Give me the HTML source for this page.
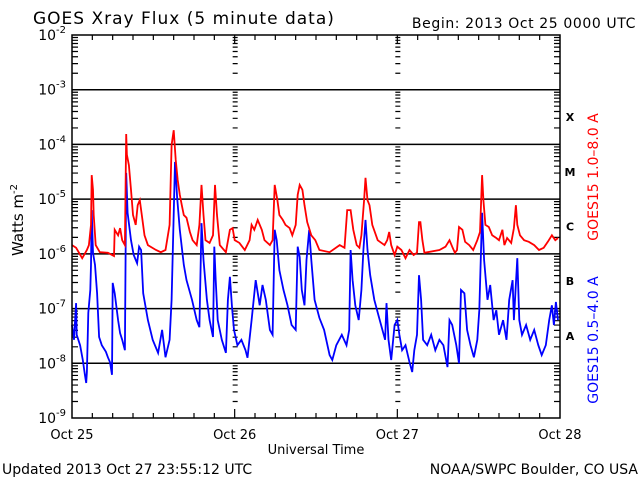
<!DOCTYPE html>
<html><head><meta charset="utf-8"><style>
body{margin:0;background:#fff;width:640px;height:480px;overflow:hidden}
svg{display:block}
text{font-family:"DejaVu Sans","Liberation Sans",sans-serif}
</style></head><body>
<svg id="chart" width="640" height="480" viewBox="0 0 640 480" xmlns="http://www.w3.org/2000/svg">
<text x="33" y="24" font-size="17" letter-spacing="1">GOES Xray Flux (5 minute data)</text>
<text x="636" y="28" font-size="14" text-anchor="end" letter-spacing="0.6">Begin:  2013 Oct 25 0000 UTC</text>
<text x="2" y="474" font-size="14">Updated 2013 Oct 27 23:55:12 UTC</text>
<text x="638" y="474" font-size="14" text-anchor="end">NOAA/SWPC Boulder, CO USA</text>
<text x="316" y="454" font-size="13" text-anchor="middle">Universal Time</text>
<text transform="translate(23,220) rotate(-90)" font-size="15" text-anchor="middle">Watts m<tspan font-size="10" dy="-6">-2</tspan></text>
<text transform="translate(598,177) rotate(-90)" font-size="14" fill="#ff0000" text-anchor="middle">GOES15 1.0&#8211;8.0 A</text>
<text transform="translate(598,340) rotate(-90)" font-size="14" fill="#0000ff" text-anchor="middle">GOES15 0.5&#8211;4.0 A</text>
<g id="g"></g>
</svg>
<script>
const dayLabels=["Oct 25","Oct 26","Oct 27","Oct 28"];
const decadeExps=[-2,-3,-4,-5,-6,-7,-8,-9];
const classLabels=["X","M","C","B","A"];
const classLogs=[-3.5,-4.5,-5.5,-6.5,-7.5];
const redHours=[0,0.6,1.5,2.2,2.5,2.8,2.9,3.1,3.2,3.5,4.1,5.3,6.2,6.3,6.8,7.1,7.4,7.8,8.0,8.1,8.4,8.7,9.0,9.4,9.7,10.0,10.3,10.7,11.2,12.4,13.1,13.8,14.4,14.7,15.0,15.3,15.6,15.9,16.2,16.5,16.9,17.4,17.8,18.4,18.8,19.1,19.4,19.7,20.3,20.8,21.1,21.4,21.8,22.7,23.3,23.7,24.0,24.7,25.5,26.2,26.5,26.9,27.4,28.0,28.4,29.2,29.6,29.9,30.3,30.6,31.1,31.5,32.1,32.5,33.0,33.3,33.6,34.0,34.3,34.7,35.3,35.9,36.5,38.0,39.5,40.2,40.6,41.1,41.5,42.0,42.4,42.7,43.1,43.3,43.6,43.9,44.3,45.1,46.1,46.5,46.8,47.1,47.6,48.0,48.6,49.2,49.8,50.4,50.9,51.2,51.4,51.7,52.0,54.2,55.1,55.7,56.1,56.5,56.8,57.1,57.6,58.0,58.6,59.2,59.8,60.2,60.5,60.7,61.0,61.5,62.0,62.6,63.0,63.5,63.8,64.2,64.8,65.2,65.5,65.7,66.1,66.7,67.4,68.2,68.9,69.6,70.2,70.8,71.3,71.7];
const redLogs=[-5.84,-5.89,-6.08,-5.93,-5.84,-5.47,-4.56,-4.83,-5.29,-5.84,-5.97,-5.98,-6.04,-5.56,-5.66,-5.53,-5.75,-5.84,-3.81,-4.19,-4.38,-4.83,-5.29,-5.47,-5.11,-5.02,-5.29,-5.66,-5.84,-5.93,-5.97,-5.93,-5.47,-4.01,-3.74,-4.28,-4.65,-4.92,-5.11,-5.29,-5.34,-5.60,-5.75,-5.84,-5.47,-4.74,-5.29,-5.75,-5.80,-5.66,-4.74,-5.29,-5.84,-5.97,-5.56,-5.53,-5.75,-5.80,-5.93,-5.75,-5.47,-5.56,-5.38,-5.56,-5.75,-5.84,-5.75,-4.74,-5.02,-5.29,-5.38,-5.47,-5.53,-5.66,-5.47,-4.92,-4.74,-4.83,-5.11,-5.42,-5.66,-5.75,-5.93,-5.97,-5.84,-5.89,-5.20,-5.20,-5.56,-5.84,-5.89,-5.66,-5.02,-4.61,-5.02,-5.11,-5.47,-5.75,-5.84,-5.75,-5.60,-5.84,-6.02,-5.87,-5.93,-6.08,-5.93,-6.02,-5.98,-5.42,-5.42,-5.75,-5.98,-5.93,-5.87,-5.75,-5.87,-5.98,-5.93,-5.51,-5.56,-5.78,-5.84,-5.93,-5.75,-5.60,-4.56,-5.02,-5.47,-5.51,-5.66,-5.71,-5.75,-5.56,-5.84,-5.71,-5.80,-5.53,-5.11,-5.47,-5.66,-5.75,-5.78,-5.84,-5.93,-5.89,-5.78,-5.66,-5.75,-5.71];
const blueHours=[0,0.3,0.6,0.7,1.2,1.6,1.9,2.1,2.2,2.4,2.7,2.8,2.9,3.1,3.4,3.7,4.0,4.4,5.0,5.3,5.6,5.9,6.0,6.3,6.8,7.1,7.4,7.8,8.0,8.2,8.7,9.1,9.6,9.9,10.2,10.5,11.2,11.9,12.7,13.3,13.8,14.4,14.7,15.2,15.5,15.9,16.5,16.9,17.7,18.4,18.8,19.1,19.4,19.9,20.3,20.8,21.0,21.2,21.5,22.1,22.7,23.0,23.3,23.6,23.9,24.4,25.0,25.6,25.9,26.5,27.1,27.7,28.1,28.6,29.2,29.6,29.9,30.2,30.6,31.2,31.8,32.4,33.0,33.3,33.6,33.9,34.3,34.6,35.0,35.3,35.8,36.5,37.2,38.0,38.4,39.0,39.8,40.5,40.9,41.1,41.4,41.8,42.3,42.7,43.0,43.3,43.6,44.0,44.6,45.2,45.8,46.2,46.4,46.7,47.1,47.6,48.0,48.3,48.7,49.2,49.8,50.2,50.5,50.9,51.2,51.5,51.8,52.4,53.0,53.6,54.2,54.8,55.4,55.7,56.1,56.7,57.1,57.4,57.9,58.3,58.8,59.3,59.8,60.1,60.5,60.8,61.3,61.7,62.2,62.6,63.0,63.6,64.1,64.5,65.0,65.2,65.7,66.0,66.4,67.0,67.6,68.2,68.8,69.3,69.9,70.4,70.8,71.1,71.4,71.7];
const blueLogs=[-7.30,-7.57,-6.90,-7.48,-7.67,-7.94,-8.21,-8.36,-8.16,-7.08,-6.66,-6.20,-5.20,-5.98,-6.20,-6.72,-7.52,-7.67,-7.79,-7.89,-7.98,-8.21,-6.53,-6.72,-7.21,-7.45,-7.57,-7.76,-4.52,-5.25,-5.75,-6.02,-6.17,-5.87,-5.93,-6.72,-7.21,-7.57,-7.81,-7.39,-7.89,-7.57,-6.84,-4.32,-4.96,-5.56,-6.20,-6.48,-6.84,-7.21,-7.34,-5.44,-6.11,-6.84,-7.21,-7.52,-5.87,-6.48,-7.21,-7.57,-7.81,-6.84,-6.42,-6.97,-7.39,-7.67,-7.57,-7.76,-7.90,-7.21,-6.48,-6.94,-6.57,-6.84,-7.39,-7.48,-5.56,-5.75,-6.30,-6.66,-6.94,-7.30,-7.39,-5.87,-6.06,-6.66,-6.94,-6.11,-5.56,-6.11,-6.84,-7.17,-7.39,-7.85,-7.94,-7.67,-7.48,-7.67,-7.39,-5.93,-6.48,-6.94,-7.21,-6.66,-5.93,-5.38,-5.93,-6.39,-6.84,-7.12,-7.39,-7.57,-6.90,-7.57,-7.94,-7.30,-7.21,-7.48,-7.76,-7.67,-7.98,-8.16,-7.76,-7.48,-6.39,-6.84,-7.57,-7.67,-7.48,-7.76,-7.57,-7.67,-8.07,-7.21,-7.30,-7.67,-8.00,-6.66,-6.72,-7.39,-7.67,-7.89,-7.57,-7.03,-5.25,-6.11,-6.84,-6.57,-7.21,-7.03,-7.48,-7.21,-7.57,-6.84,-6.48,-7.21,-6.08,-7.21,-7.48,-7.30,-7.57,-7.39,-7.67,-7.85,-7.67,-7.21,-6.94,-7.30,-6.88,-7.21];

const L=72,R=560,T=35,B=418;
const xs=h=>L+(R-L)*h/72;
const ys=v=>T+(B-T)*(-2-v)/7;
const g=document.getElementById('g');
const NS="http://www.w3.org/2000/svg";
function mk(tag,attrs){const e=document.createElementNS(NS,tag);for(const k in attrs)e.setAttribute(k,attrs[k]);g.appendChild(e);return e;}

decadeExps.slice(1,7).forEach(ex=>{
  const l=mk('line',{x1:L,x2:R,y1:ys(ex),y2:ys(ex),stroke:'#000','stroke-width':1.5});
  
  
});
const tickXs=[L,xs(24),xs(48),R];
let tk=[];
decadeExps.slice(0,7).forEach(ex=>{
  for(let m=2;m<=9;m++){
    const y=ys(ex-1+Math.log10(m));
    tickXs.forEach((x,i)=>{
      if(i===0) tk.push(`M${x},${y}h6`);
      else if(i===3) tk.push(`M${x},${y}h-6`);
      else tk.push(`M${x-2},${y}h5`);
    });
  }
});
for(let h=3;h<72;h+=3){
  const x=xs(h);const len=h%24===0?9:5;
  tk.push(`M${x},${T}v${len}`,`M${x},${B}v-${len}`);
}
const ticks=mk('path',{d:tk.join(''),stroke:'#000','stroke-width':1.2,fill:'none'});



decadeExps.forEach(ex=>{
  const t=mk('text',{x:66,y:ys(ex)+5,'font-size':14,'text-anchor':'end'});
  
  
  t.innerHTML='10<tspan font-size="10" dy="-7">'+ex+'</tspan>';
});
dayLabels.forEach((d,i)=>{
  const t=mk('text',{x:xs(i*24),y:439,'font-size':13,'text-anchor':'middle'});
  
  
  t.textContent=d;
});
classLabels.forEach((c,i)=>{
  const t=mk('text',{x:570,y:ys(classLogs[i])+4,'font-size':11,'font-weight':'bold','text-anchor':'middle','font-family':'"Liberation Serif",serif'});
  
  
  t.textContent=c;
});
function series(hs,vs,col,name){
  const d=hs.map((h,i)=>(i?'L':'M')+xs(h).toFixed(1)+','+ys(vs[i]).toFixed(1)).join('');
  const p=mk('path',{d:d,stroke:col,'stroke-width':1.8,fill:'none','stroke-linejoin':'miter'});
  
  
}
series(blueHours,blueLogs,'#0000ff','series-short-channel');
series(redHours,redLogs,'#ff0000','series-long-channel');
const f=mk('rect',{x:L,y:T,width:R-L,height:B-T,fill:'none',stroke:'#000','stroke-width':1.5});


</script>
</body></html>
